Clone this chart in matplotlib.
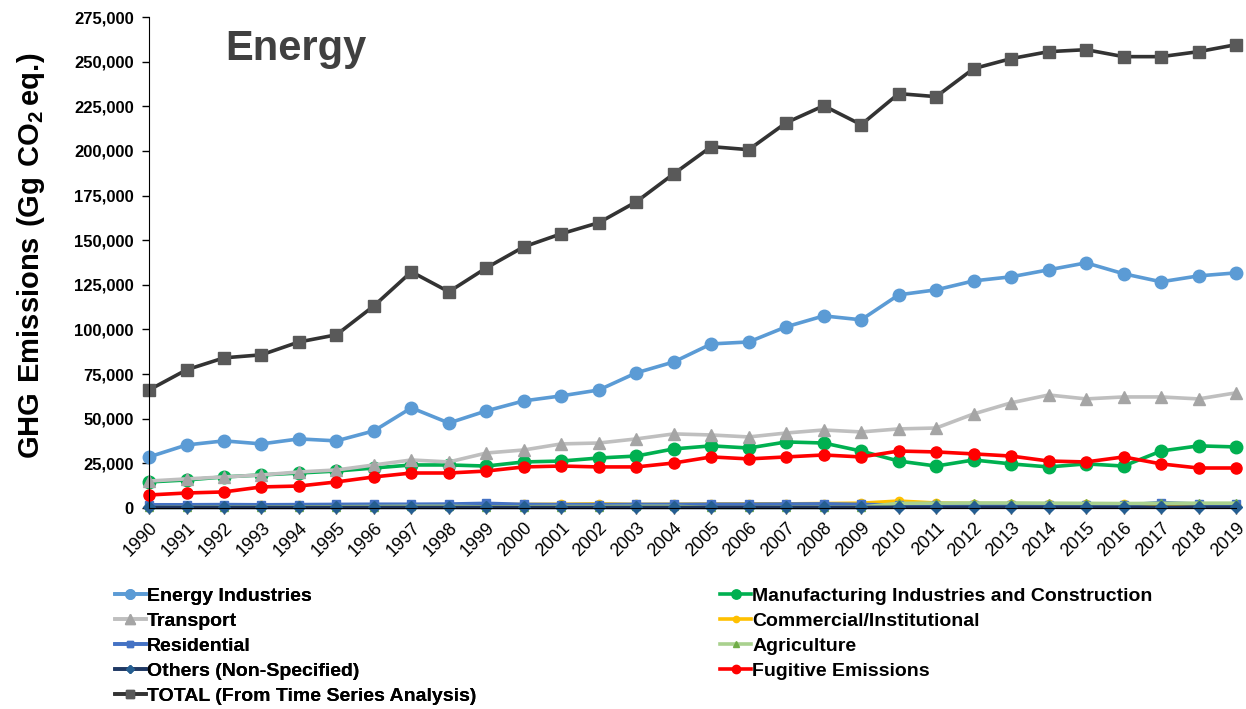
import matplotlib
matplotlib.use("Agg")
import matplotlib.pyplot as plt
from matplotlib.ticker import FuncFormatter, MultipleLocator

plt.rcParams["font.family"] = ["Liberation Sans", "DejaVu Sans"]
plt.rcParams["font.weight"] = "bold"
plt.rcParams["mathtext.fontset"] = "custom"
plt.rcParams["mathtext.rm"] = "Liberation Sans:bold"
plt.rcParams["mathtext.bf"] = "Liberation Sans:bold"

years = list(range(1990, 2020))

energy_industries = [28600, 35300, 37600, 35900, 38700, 37600, 43200, 56100, 47600, 54400,
                     60000, 62800, 66100, 75700, 81800, 91900, 93000, 101500, 107600, 105400,
                     119400, 122200, 127200, 129500, 133400, 137300, 131200, 126700, 130000, 131700]
manufacturing = [14600, 15700, 17400, 18500, 19600, 20700, 22400, 24100, 24100, 23500,
                 25800, 26300, 28000, 29100, 33100, 34800, 33600, 37000, 36400, 31900,
                 26300, 23500, 26900, 24700, 23000, 24700, 23500, 31900, 34800, 34200]
transport = [15100, 16300, 17400, 18500, 20200, 21300, 24100, 26900, 25800, 30800,
             32500, 35900, 36400, 38700, 41500, 40900, 39800, 42000, 43700, 42600,
             44300, 44800, 52700, 58900, 63300, 61100, 62200, 62200, 61100, 64500]
commercial = [1200, 1300, 1300, 1400, 1500, 1500, 1600, 1700, 1700, 1800,
              2000, 2100, 2300, 2000, 2100, 2200, 2300, 2300, 2500, 2700,
              3900, 2800, 2500, 2400, 2300, 2100, 2300, 1200, 1500, 1800]
residential = [1800, 1800, 1900, 1800, 1900, 2000, 2100, 2100, 2200, 2600,
               2000, 1900, 1900, 2000, 2000, 2100, 2100, 2200, 2300, 2000,
               1600, 1500, 1600, 1600, 1700, 1700, 1600, 3000, 2200, 2000]
agriculture = [300, 400, 500, 500, 600, 700, 800, 900, 900, 600,
               700, 800, 800, 900, 900, 300, 300, 400, 400, 500,
               2600, 2700, 2800, 2800, 2700, 2600, 2500, 2600, 2700, 2700]
others = [300, 300, 300, 300, 300, 300, 300, 300, 300, 300,
          300, 300, 300, 300, 300, 300, 300, 300, 300, 300,
          400, 400, 400, 400, 400, 400, 400, 400, 400, 400]
fugitive = [7300, 8400, 9000, 11800, 12300, 14600, 17400, 19600, 19600, 20700,
            23000, 23500, 23000, 23000, 25200, 28600, 27500, 28600, 29700, 28600,
            31900, 31400, 30300, 29100, 26300, 25800, 28600, 24700, 22400, 22400]
total = [66100, 77400, 84100, 85800, 93000, 97000, 113200, 132300, 121100, 134500,
         146300, 153600, 159800, 171500, 187200, 202400, 200700, 215800, 225300, 214700,
         232100, 230400, 246100, 251700, 255600, 256700, 252800, 252800, 255600, 259500]

# label, data, line colour, marker, marker colour, marker size
series = [
    ("Energy Industries", energy_industries, "#5B9BD5", "o", "#5B9BD5", 9),
    ("Manufacturing Industries and Construction", manufacturing, "#00B050", "o", "#00B050", 9),
    ("Transport", transport, "#BFBFBF", "^", "#A5A5A5", 9),
    ("Commercial/Institutional", commercial, "#FFC000", "o", "#FFC000", 6),
    ("Residential", residential, "#4472C4", "s", "#4472C4", 6),
    ("Agriculture", agriculture, "#A9D18E", "^", "#70AD47", 6),
    ("Others (Non-Specified)", others, "#1F3864", "D", "#255E91", 6),
    ("Fugitive Emissions", fugitive, "#FF0000", "o", "#FF0000", 8),
    ("TOTAL (From Time Series Analysis)", total, "#333333", "s", "#595959", 8),
]

fig = plt.figure(figsize=(12.46, 7.09), dpi=100)
ax = fig.add_axes([0.1196, 0.2835, 0.8724, 0.6925])

handles = {}
for label, data, lc, mk, mc, ms in series:
    h, = ax.plot(years, data, color=lc, lw=2.6, marker=mk, markersize=ms,
                 markerfacecolor=mc, markeredgecolor=mc, label=label, clip_on=False)
    handles[label] = h

ax.set_xlim(1990, 2019)
ax.set_ylim(0, 275000)
ax.yaxis.set_major_locator(MultipleLocator(25000))
ax.yaxis.set_major_formatter(FuncFormatter(lambda v, p: f"{int(v):,}"))
ax.set_xticks(years)
ax.set_xticklabels([str(y) for y in years], rotation=45, ha="right",
                   rotation_mode="anchor", fontsize=13, fontweight="normal")
ax.tick_params(axis="y", labelsize=12, length=5, width=1, pad=6)
ax.tick_params(axis="x", length=4, width=1, pad=4)
for lab in ax.get_yticklabels():
    lab.set_fontweight("bold")
ax.spines["top"].set_visible(False)
ax.spines["right"].set_visible(False)

ax.set_ylabel(r"$\mathrm{GHG\ Emissions\ (Gg\ CO_2\,eq.\!)}$", fontsize=21)
ax.yaxis.set_label_coords(-0.094, 0.515)
ax.text(0.07, 0.935, "Energy", transform=ax.transAxes, fontsize=30,
        fontweight="bold", color="#404040", va="center")

order = ["Energy Industries", "Transport", "Residential", "Others (Non-Specified)",
         "TOTAL (From Time Series Analysis)",
         "Manufacturing Industries and Construction", "Commercial/Institutional",
         "Agriculture", "Fugitive Emissions"]
leg_kw = dict(loc="upper left", frameon=False, fontsize=14, handlelength=1.6,
              handletextpad=0.05, labelspacing=0.38, borderaxespad=0,
              borderpad=0, markerscale=0.75)
leg1 = fig.legend([handles[k] for k in order[:5]], order[:5],
                  bbox_to_anchor=(0.092, 0.172), **leg_kw)
fig.legend([handles[k] for k in order[5:]], order[5:],
           bbox_to_anchor=(0.578, 0.172), **leg_kw)
fig.add_artist(leg1)

fig.savefig("out.png", dpi=100)
